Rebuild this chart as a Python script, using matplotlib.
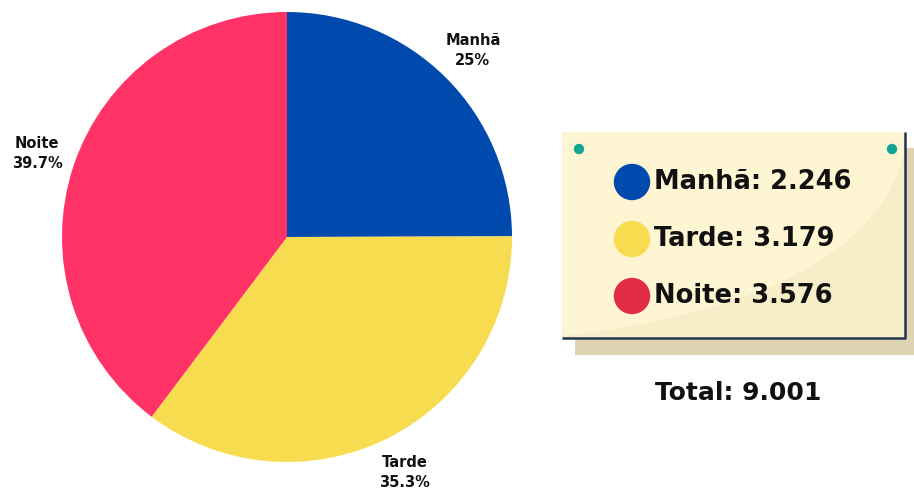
import numpy as np
import matplotlib.pyplot as plt
from matplotlib.patches import Rectangle, Circle, PathPatch
from matplotlib.path import Path

periodos = ['Manhã', 'Tarde', 'Noite']
valores = [2246, 3179, 3576]
cores_pizza = ['#004AAD', '#F7DC4F', '#FF3366']
cores_legenda = ['#004AAD', '#F7DC4F', '#E02D44']

plt.rcParams['font.family'] = ['DejaVu Sans']


def fmt_milhar(v):
    return f"{v:,}".replace(',', '.')


total = sum(valores)
pct = [f"{round(v / total * 100, 1):g}%" for v in valores]
rotulos = [f"{p}\n{q}" for p, q in zip(periodos, pct)]

W, H = 914, 490
fig = plt.figure(figsize=(W / 100, H / 100), dpi=100)
ax = fig.add_axes([0, 0, 1, 1])

# pizza
wedges, texts = ax.pie(valores, colors=cores_pizza, startangle=90, counterclock=False,
                       center=(287, 253), radius=225, labels=rotulos, labeldistance=1.17,
                       textprops=dict(fontsize=10.5, fontweight='bold', color='#111111',
                                      linespacing=1.4))
for t in texts:
    t.set_ha('center')
    t.set_va('center')

# o pie muda os limites, entao define depois
ax.set_xlim(0, W)
ax.set_ylim(0, H)
ax.set_aspect('equal')
ax.axis('off')

# cartao com sombra
ax.add_patch(Rectangle((575, H - 355), 345, 207, facecolor='#DED4B2', edgecolor='none'))
ax.add_patch(Rectangle((562, H - 338), 343, 206, facecolor='#F8EDC9',
                       edgecolor='none'))
# area mais clara curva
verts = [(562, H - 132), (905, H - 132), (905, H - 150),
         (870, H - 300), (562, H - 336), (562, H - 132)]
codes = [Path.MOVETO, Path.LINETO, Path.LINETO, Path.CURVE3, Path.CURVE3, Path.CLOSEPOLY]
ax.add_patch(PathPatch(Path(verts, codes), facecolor='#FEF5D2', edgecolor='none'))
ax.plot([562, 905, 905], [H - 338, H - 338, H - 132], color='#1F3550', lw=1.8,
        solid_capstyle='butt')

# alfinetes
for px in [579, 892]:
    ax.add_patch(Circle((px, H - 149), 4.5, color='#12A594'))

# legenda
for i, (p, v) in enumerate(zip(periodos, valores)):
    y = H - (182 + i * 57)
    ax.add_patch(Circle((632, y), 17.5, color=cores_legenda[i]))
    ax.text(654, y, f"{p}: {fmt_milhar(v)}", fontsize=18.5, fontweight='bold',
            ha='left', va='center', color='#111111')

ax.text(738, H - 393, f"Total: {fmt_milhar(total)}", fontsize=18, fontweight='bold',
        ha='center', va='center', color='#111111')

fig.savefig('out.png', dpi=100, facecolor='white')
